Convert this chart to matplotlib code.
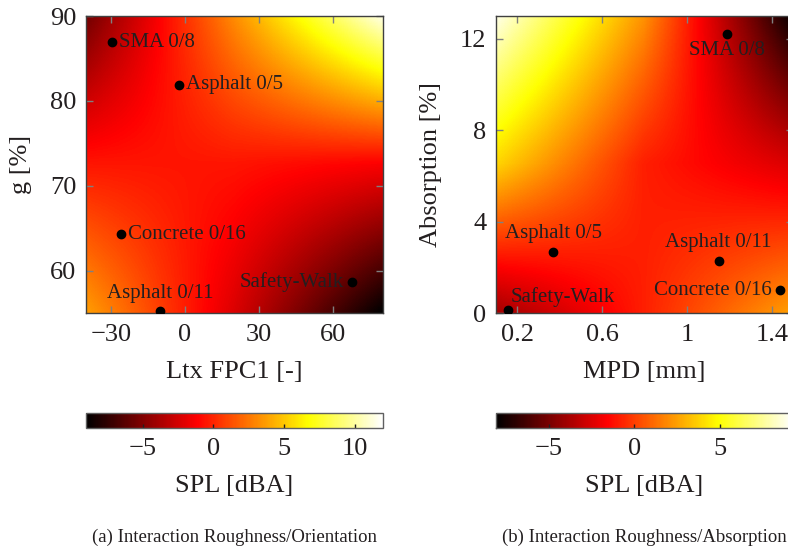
import numpy as np
import matplotlib
matplotlib.use('Agg')
import matplotlib.pyplot as plt
from matplotlib.colors import LinearSegmentedColormap

plt.rcParams['font.family'] = ['Liberation Serif', 'DejaVu Serif']
plt.rcParams['font.size'] = 19

ink = '#231f20'

# panel (a) - roughness vs orientation
a_names = ['SMA 0/8', 'Asphalt 0/5', 'Concrete 0/16', 'Asphalt 0/11', 'Safety-Walk']
a_ltx = [-29.4, -2.4, -25.9, -10.1, 67.6]
a_g = [86.9, 81.9, 64.3, 55.2, 58.6]
# SPL read at corners / edge middles / centre, rows top -> bottom
a_spl = [[-5.6, 3.2, 11.6],
         [-0.5, -0.5, -1.2],
         [3.8, -2.2, -9.0]]
a_xlim = (-40, 80)
a_ylim = (55, 90)
a_clim = (-9, 12)
a_xticks = [-30, 0, 30, 60]
a_yticks = [60, 70, 80, 90]
a_cticks = [-5, 0, 5, 10]

# panel (b) - roughness vs absorption
b_names = ['SMA 0/8', 'Asphalt 0/5', 'Asphalt 0/11', 'Concrete 0/16', 'Safety-Walk']
b_mpd = [1.19, 0.37, 1.15, 1.44, 0.155]
b_abs = [12.2, 2.68, 2.29, 1.0, 0.13]
b_spl = [[9.0, 2.2, -8.0],
         [3.9, -0.8, -2.5],
         [-4.0, -0.8, 2.5]]
b_xlim = (0.1, 1.5)
b_ylim = (0, 13)
b_clim = (-8.1, 9.3)
b_xticks = [0.2, 0.6, 1, 1.4]
b_xticklabels = ['0.2', '0.6', '1', '1.4']
b_yticks = [0, 4, 8, 12]
b_cticks = [-5, 0, 5]

# label placement (ha, va, offset in points)
a_place = [('left', 'center', (5, 0)), ('left', 'center', (5, 0)),
           ('left', 'center', (5, 0)), ('center', 'bottom', (0, 6)),
           ('right', 'center', (-6, 0))]
b_place = [('center', 'top', (0, -5)), ('center', 'bottom', (0, 6)),
           ('center', 'bottom', (0, 6)), ('right', 'center', (-6, 0)),
           ('left', 'bottom', (2, 2))]

hot = LinearSegmentedColormap.from_list(
    'pgfhot', [(0, 'black'), (0.375, 'red'), (0.75, 'yellow'), (1, 'white')])

fig = plt.figure(figsize=(7.88, 5.48), dpi=100)


def panel(left, grid, xs, ys, names, place, xlim, ylim, clim,
          xticks, xticklabels, yticks, cticks, xlabel, ylabel, caption):
    ax = fig.add_axes([left, 0.4288, 0.3769, 0.542])
    cax = fig.add_axes([left, 0.219, 0.3769, 0.0274])

    grid = np.array(grid)
    nr, nc = grid.shape
    dx = (xlim[1] - xlim[0]) / (nc - 1)
    dy = (ylim[1] - ylim[0]) / (nr - 1)
    im = ax.imshow(grid, cmap=hot, vmin=clim[0], vmax=clim[1], origin='upper',
                   extent=[xlim[0] - dx / 2, xlim[1] + dx / 2,
                           ylim[0] - dy / 2, ylim[1] + dy / 2],
                   interpolation='bilinear', aspect='auto')
    ax.set_xlim(xlim)
    ax.set_ylim(ylim)

    ax.scatter(xs, ys, s=36, color='black', zorder=3)
    for name, x, y, (ha, va, off) in zip(names, xs, ys, place):
        ax.annotate(name, (x, y), xytext=off, textcoords='offset points',
                    ha=ha, va=va, color=ink, fontsize=15)

    ax.set_xticks(xticks)
    if xticklabels is not None:
        ax.set_xticklabels(xticklabels)
    ax.set_yticks(yticks)
    ax.tick_params(direction='in', length=5, width=1, color='#808080',
                   top=True, right=True, labelcolor=ink, labelsize=19)
    ax.tick_params(axis='x', pad=8)
    ax.tick_params(axis='y', pad=7)
    for sp in ax.spines.values():
        sp.set_color('#404040')
        sp.set_linewidth(1)
    ax.set_xlabel(xlabel, color=ink, fontsize=19, labelpad=11)
    ax.set_ylabel(ylabel, color=ink, fontsize=19, labelpad=13)

    cb = fig.colorbar(im, cax=cax, orientation='horizontal')
    cb.set_ticks(cticks)
    cb.ax.tick_params(direction='in', length=3, width=1, color=ink,
                      labelcolor=ink, labelsize=19, pad=7)
    cb.outline.set_edgecolor('#606060')
    cb.outline.set_linewidth(1)
    cb.set_label('SPL [dBA]', color=ink, fontsize=19, labelpad=11)

    fig.text(left + 0.3769 / 2, 1 - 537 / 548, caption, ha='center',
             va='center', color=ink, fontsize=13.5)


panel(0.1091, a_spl, a_ltx, a_g, a_names, a_place, a_xlim, a_ylim, a_clim,
      a_xticks, None, a_yticks, a_cticks, 'Ltx FPC1 [-]', 'g [%]',
      '(a) Interaction Roughness/Orientation')
panel(0.6294, b_spl, b_mpd, b_abs, b_names, b_place, b_xlim, b_ylim, b_clim,
      b_xticks, b_xticklabels, b_yticks, b_cticks, 'MPD [mm]', 'Absorption [%]',
      '(b) Interaction Roughness/Absorption')

fig.savefig('out.png', dpi=100)
